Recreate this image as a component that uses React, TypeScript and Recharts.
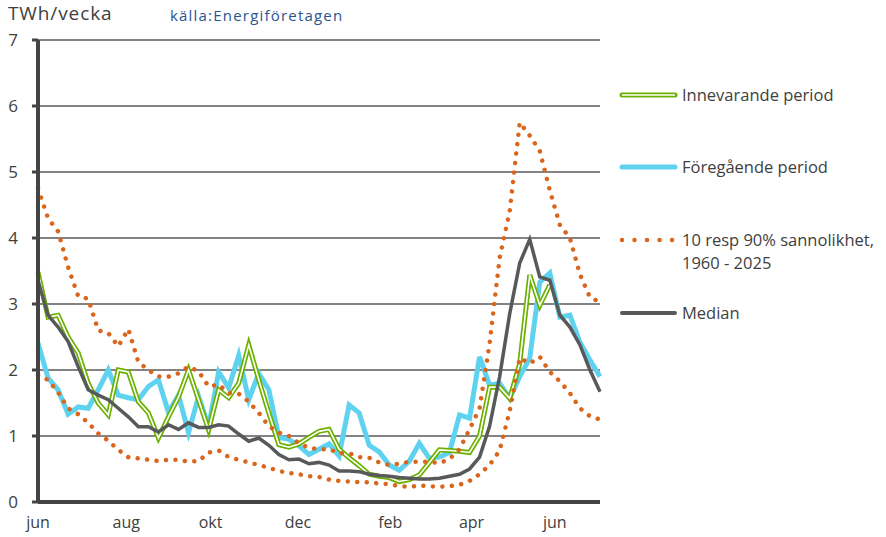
import React from "react";
import { LineChart, Line, XAxis, YAxis, CartesianGrid } from "recharts";

// veckovärden, TWh/vecka, från juni till juni
const current = [
  3.48, 2.8, 2.83, 2.5, 2.26, 1.8, 1.5, 1.32, 2.0, 1.97,
  1.52, 1.35, 0.97, 1.29, 1.59, 2.0, 1.55, 1.09, 1.7, 1.58,
  1.8, 2.38, 1.85, 1.35, 0.87, 0.83, 0.88, 0.98, 1.07, 1.1,
  0.8, 0.67, 0.55, 0.42, 0.39, 0.37, 0.31, 0.34, 0.41, 0.6,
  0.79, 0.78, 0.77, 0.75, 1.0, 1.74, 1.74, 1.57, 2.1, 3.44,
  2.98, 3.29, null, null, null, null, null,
];

const previous = [
  2.41, 1.88, 1.7, 1.33, 1.44, 1.42, 1.7, 2.0, 1.62, 1.58,
  1.55, 1.75, 1.85, 1.36, 1.62, 1.05, 1.6, 1.14, 1.97, 1.73,
  2.22, 1.55, 1.95, 1.7, 0.98, 0.95, 0.85, 0.72, 0.8, 0.88,
  0.7, 1.47, 1.35, 0.86, 0.76, 0.56, 0.48, 0.62, 0.89, 0.66,
  0.68, 0.75, 1.32, 1.27, 2.2, 1.77, 1.8, 1.57, 1.9, 2.18,
  3.33, 3.47, 2.8, 2.83, 2.42, 2.15, 1.9,
];

const p90 = [
  4.75, 4.3, 4.1, 3.56, 3.12, 3.08, 2.6, 2.56, 2.36, 2.62,
  2.12, 2.0, 1.9, 1.9, 1.95, 2.05, 1.98, 1.75, 1.78, 1.65,
  1.64, 1.52, 1.35, 1.15, 1.05, 1.0, 0.89, 0.82, 0.8, 0.8,
  0.74, 0.74, 0.68, 0.67, 0.6, 0.56, 0.58, 0.61, 0.61, 0.61,
  0.59, 0.65, 0.8, 1.1, 1.42, 2.4, 3.7, 4.4, 5.75, 5.55,
  5.32, 4.72, 4.2, 4.0, 3.45, 3.1, 3.03,
];

const p10 = [
  1.92, 1.85, 1.66, 1.42, 1.33, 1.2, 1.04, 0.93, 0.79, 0.68,
  0.66, 0.64, 0.62, 0.64, 0.64, 0.61, 0.62, 0.75, 0.78, 0.68,
  0.64, 0.6, 0.56, 0.52, 0.47, 0.44, 0.42, 0.39, 0.38, 0.34,
  0.32, 0.31, 0.3, 0.3, 0.28, 0.27, 0.24, 0.23, 0.25, 0.24,
  0.23, 0.24, 0.26, 0.32, 0.42, 0.56, 0.78, 1.38, 2.18, 2.1,
  2.2, 1.97, 1.83, 1.65, 1.42, 1.3, 1.25,
];

const median = [
  3.36, 2.83, 2.65, 2.43, 2.05, 1.7, 1.62, 1.55, 1.42, 1.29,
  1.14, 1.14, 1.06, 1.17, 1.1, 1.2, 1.13, 1.13, 1.17, 1.15,
  1.03, 0.92, 0.97, 0.86, 0.72, 0.64, 0.65, 0.58, 0.6, 0.56,
  0.47, 0.47, 0.46, 0.42, 0.4, 0.39, 0.37, 0.36, 0.35, 0.35,
  0.36, 0.39, 0.42, 0.5, 0.68, 1.15, 1.9, 2.85, 3.62, 3.98,
  3.41, 3.36, 2.83, 2.65, 2.38, 2.0, 1.67,
];

// månadsetiketter (position i veckor från start)
const monthTicks = [0, 8.8, 17.2, 25.9, 35.1, 43.2, 51.5];
const monthLabels = ["jun", "aug", "okt", "dec", "feb", "apr", "jun"];
const yTicks = [0, 1, 2, 3, 4, 5, 6, 7];

const data = median.map((m, i) => ({
  week: i,
  current: current[i],
  previous: previous[i],
  p90: p90[i],
  p10: p10[i],
  median: m,
}));

const FONT = "'Open Sans', sans-serif";
const TEXT = "#404040";
const GREEN = "#6CB000";
const BLUE = "#5FD2EF";
const ORANGE = "#D9661C";
const GRAY = "#58595B";

function LegendBox() {
  const t = { fontFamily: FONT, fontSize: 16.5, fill: TEXT };
  return (
    <svg width={268} height={260} style={{ position: "absolute", left: 618, top: 80 }}>
      <line x1={4} x2={57} y1={15} y2={15} stroke={GREEN} strokeWidth={5} strokeLinecap="round" />
      <line x1={4} x2={57} y1={15} y2={15} stroke="#fff" strokeWidth={1.6} />
      <text x={64} y={15} dy="0.35em" {...t}>Innevarande period</text>

      <line x1={4} x2={57} y1={87} y2={87} stroke={BLUE} strokeWidth={5} strokeLinecap="round" />
      <text x={64} y={87} dy="0.35em" {...t}>Föregående period</text>

      <line x1={4} x2={57} y1={160} y2={160} stroke={ORANGE} strokeWidth={4.5}
        strokeLinecap="round" strokeDasharray="0.01 12.5" />
      <text x={64} y={160} dy="0.35em" {...t}>10 resp 90% sannolikhet,</text>
      <text x={64} y={183} dy="0.35em" {...t}>1960 - 2025</text>

      <line x1={4} x2={57} y1={233} y2={233} stroke={GRAY} strokeWidth={4} strokeLinecap="round" />
      <text x={64} y={233} dy="0.35em" {...t}>Median</text>
    </svg>
  );
}

export default function App() {
  return (
    <div style={{ position: "absolute", left: 0, top: 0, width: 886, height: 537, background: "#fff", fontFamily: FONT }}>
      <div style={{ position: "absolute", left: 8, top: 0, fontSize: 19, color: TEXT, letterSpacing: 0.9 }}>TWh/vecka</div>
      <div style={{ position: "absolute", left: 170, top: 5, fontSize: 15, color: "#2A5490", letterSpacing: 1.2 }}>
        källa:Energiföretagen
      </div>
      <LineChart width={886} height={537} data={data} margin={{ top: 40, right: 286, bottom: 0, left: 8 }}>
        <CartesianGrid vertical={false} stroke="#5a5a5a" strokeWidth={1.5} />
        <XAxis
          dataKey="week"
          type="number"
          domain={[0, 56]}
          ticks={monthTicks}
          tickFormatter={(v: number) => monthLabels[monthTicks.indexOf(v)] ?? ""}
          interval={0}
          height={35}
          axisLine={{ stroke: "#444", strokeWidth: 4 }}
          tickLine={false}
          tickMargin={9}
          tick={{ fill: TEXT, fontSize: 16, fontFamily: FONT }}
        />
        <YAxis
          domain={[0, 7]}
          ticks={yTicks}
          interval={0}
          width={30}
          axisLine={{ stroke: "#444", strokeWidth: 4 }}
          tickLine={{ stroke: "#444", strokeWidth: 3 }}
          tickSize={6}
          tickMargin={14}
          tick={{ fill: TEXT, fontSize: 17, fontFamily: FONT }}
        />
        <Line type="linear" dataKey="previous" name="Föregående period" stroke={BLUE} strokeWidth={5}
          dot={false} activeDot={false} isAnimationActive={false} />
        <Line type="linear" dataKey="current" name="Innevarande period" stroke={GREEN} strokeWidth={5}
          dot={false} activeDot={false} isAnimationActive={false} />
        <Line type="linear" dataKey="current" name="Innevarande inner" stroke="#fff" strokeWidth={1.6}
          dot={false} activeDot={false} isAnimationActive={false} />
        <Line type="linear" dataKey="p90" name="90%" stroke={ORANGE} strokeWidth={4.5}
          strokeDasharray="0.01 9.5" strokeLinecap="round"
          dot={false} activeDot={false} isAnimationActive={false} />
        <Line type="linear" dataKey="p10" name="10%" stroke={ORANGE} strokeWidth={4.5}
          strokeDasharray="0.01 9.5" strokeLinecap="round"
          dot={false} activeDot={false} isAnimationActive={false} />
        <Line type="linear" dataKey="median" name="Median" stroke={GRAY} strokeWidth={3.5}
          dot={false} activeDot={false} isAnimationActive={false} />
      </LineChart>
      <LegendBox />
    </div>
  );
}
